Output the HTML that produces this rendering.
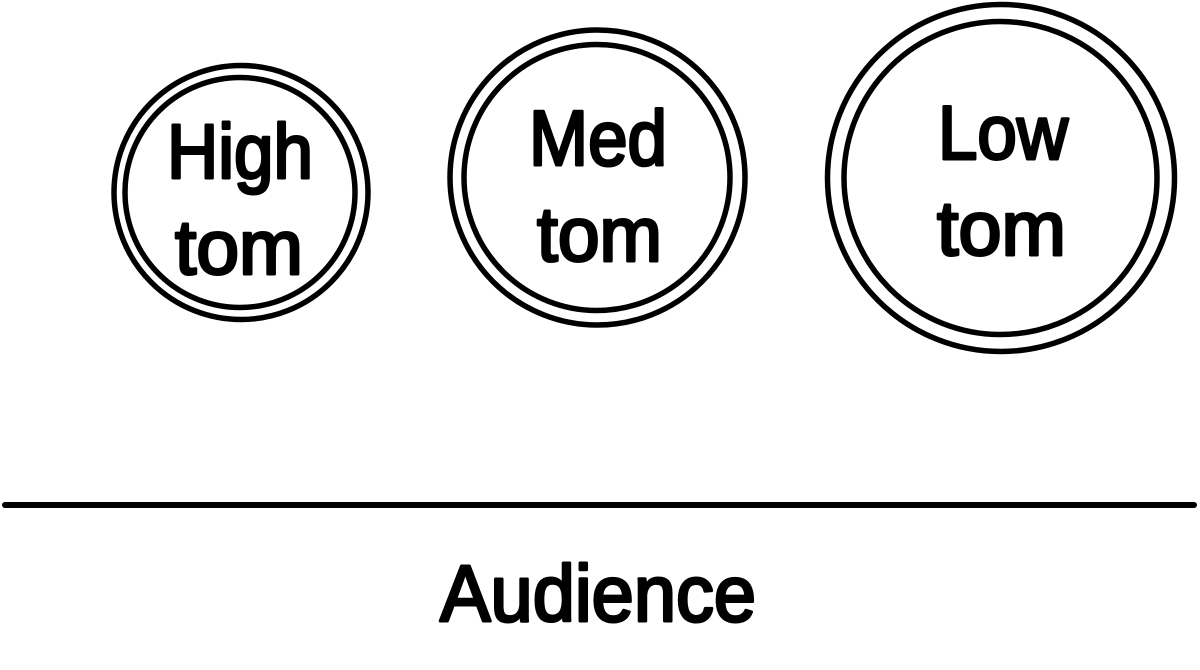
<!DOCTYPE html>
<html>
<head>
<meta charset="utf-8">
<style>
  html, body { margin: 0; padding: 0; background: #ffffff; }
  body { width: 1200px; height: 670px; overflow: hidden; }
  svg { display: block; }
  text { font-family: "Liberation Sans", "DejaVu Sans", sans-serif; font-weight: normal; fill: #000; stroke: #000; stroke-width: 3px; stroke-linejoin: round; }
</style>
</head>
<body>
<svg width="1200" height="670" viewBox="0 0 1200 670" xmlns="http://www.w3.org/2000/svg">
  <rect x="0" y="0" width="1200" height="670" fill="#ffffff"/>

  <!-- High tom -->
  <circle cx="241" cy="192.5" r="127" fill="none" stroke="#000" stroke-width="5.5"/>
  <circle cx="240" cy="192.5" r="115" fill="none" stroke="#000" stroke-width="5.5"/>
  <text x="240" y="178" font-size="77" text-anchor="middle" textLength="146" lengthAdjust="spacingAndGlyphs">High</text>
  <text x="239" y="274" font-size="77" text-anchor="middle" textLength="128" lengthAdjust="spacingAndGlyphs">tom</text>

  <!-- Med tom -->
  <circle cx="597.5" cy="177.5" r="147.5" fill="none" stroke="#000" stroke-width="5.5"/>
  <circle cx="597" cy="177.5" r="133" fill="none" stroke="#000" stroke-width="5.5"/>
  <text x="598" y="165" font-size="78" text-anchor="middle" textLength="138" lengthAdjust="spacingAndGlyphs">Med</text>
  <text x="599.5" y="261" font-size="77" text-anchor="middle" textLength="125" lengthAdjust="spacingAndGlyphs">tom</text>

  <!-- Low tom -->
  <circle cx="1001" cy="178" r="173.5" fill="none" stroke="#000" stroke-width="5.5"/>
  <circle cx="1000.5" cy="178" r="156.5" fill="none" stroke="#000" stroke-width="5.5"/>
  <text x="1003" y="159" font-size="76" text-anchor="middle" textLength="130" lengthAdjust="spacingAndGlyphs">Low</text>
  <text x="1001.5" y="255" font-size="77" text-anchor="middle" textLength="129" lengthAdjust="spacingAndGlyphs">tom</text>

  <!-- Stage line -->
  <line x1="5" y1="505" x2="1194" y2="505" stroke="#000" stroke-width="6" stroke-linecap="round"/>

  <!-- Audience -->
  <text x="598" y="621" font-size="80" text-anchor="middle" textLength="316" lengthAdjust="spacingAndGlyphs">Audience</text>
</svg>
</body>
</html>
